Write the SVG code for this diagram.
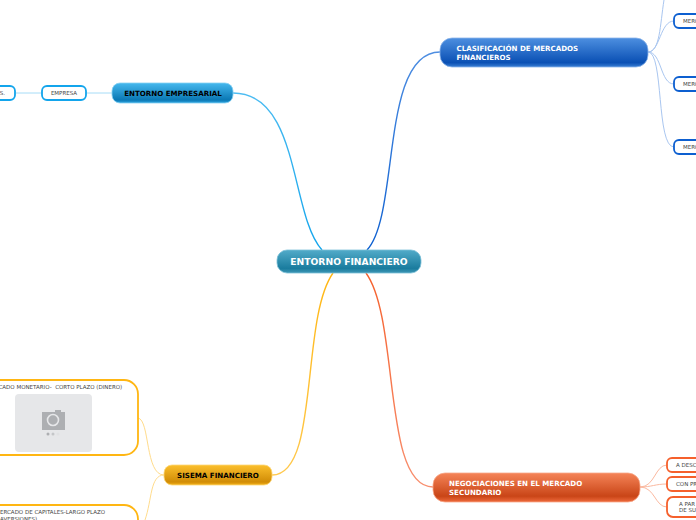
<svg xmlns="http://www.w3.org/2000/svg" width="696" height="520" viewBox="0 0 696 520">
<style>
text{font-family:"DejaVu Sans",Verdana,sans-serif}
.m{font-size:9.2px;fill:#fff;font-weight:700}
.t{font-size:7.1px;font-weight:700}
.s{font-size:5.5px;fill:#444}
.c{fill:none}
.n{fill:#fff;stroke-width:1.8}
</style>
<defs>
<linearGradient id="gr" x1="0" y1="0" x2="0" y2="1"><stop offset="0" stop-color="#52abc9"/><stop offset=".8" stop-color="#1a7c9e"/><stop offset="1" stop-color="#3f97b5"/></linearGradient>
<linearGradient id="gc" x1="0" y1="0" x2="0" y2="1"><stop offset="0" stop-color="#4d8fe0"/><stop offset=".85" stop-color="#0a50b4"/><stop offset="1" stop-color="#3a7fd4"/></linearGradient>
<linearGradient id="gn" x1="0" y1="0" x2="0" y2="1"><stop offset="0" stop-color="#f58458"/><stop offset=".8" stop-color="#c94517"/><stop offset="1" stop-color="#ee6a3c"/></linearGradient>
<linearGradient id="ge" x1="0" y1="0" x2="0" y2="1"><stop offset="0" stop-color="#45b8ee"/><stop offset=".85" stop-color="#0a78b4"/><stop offset="1" stop-color="#2ea4e0"/></linearGradient>
<linearGradient id="gs" x1="0" y1="0" x2="0" y2="1"><stop offset="0" stop-color="#fbbf2c"/><stop offset=".85" stop-color="#d18c06"/><stop offset="1" stop-color="#f5b31a"/></linearGradient>
<linearGradient id="le" gradientUnits="userSpaceOnUse" x1="322" y1="250" x2="233" y2="93"><stop offset="0" stop-color="#13a5ec"/><stop offset="1" stop-color="#4fbdf2"/></linearGradient>
<linearGradient id="lc" gradientUnits="userSpaceOnUse" x1="367" y1="250" x2="440" y2="52"><stop offset="0" stop-color="#0d5fd0"/><stop offset="1" stop-color="#4f8fe2"/></linearGradient>
<linearGradient id="ls" gradientUnits="userSpaceOnUse" x1="333" y1="273" x2="272" y2="475"><stop offset="0" stop-color="#ffb612"/><stop offset="1" stop-color="#ffc94f"/></linearGradient>
<linearGradient id="ln" gradientUnits="userSpaceOnUse" x1="366" y1="273" x2="433" y2="487"><stop offset="0" stop-color="#f5602c"/><stop offset="1" stop-color="#f89070"/></linearGradient>
</defs>
<g id="connectors" class="c">
<path d="M322 250C290 215 300 93 233 93" stroke="url(#le)" stroke-width="1.4"/>
<path d="M367 250C400 215 380 52 440 52" stroke="url(#lc)" stroke-width="1.4"/>
<path d="M333 273C300 320 320 475 272 475" stroke="url(#ls)" stroke-width="1.4"/>
<path d="M366 273C400 320 382 487 433 487" stroke="url(#ln)" stroke-width="1.4"/>
<g stroke-width="1">
<path d="M112 93H86M42 93H16" stroke="#a6dcf7"/>
<path d="M648 52C660 52 660 25 664 0M648 52C660 52 660 21 674 21M648 52C662 52 660 84 674 84M648 52C664 52 656 147 674 147" stroke="#a9c6f0"/>
<path d="M640 487C655 487 655 465 667 465M640 487C652 487 655 484 667 484M640 487C655 487 655 507 667 507" stroke="#fbb9a0"/>
<path d="M164 475C145 475 150 420 138 418M164 475C150 475 152 500 145 520" stroke="#ffdc8c"/>
</g>
</g>
<g id="root"><rect x="277" y="250" width="144" height="23" rx="10" fill="url(#gr)" stroke="#7cc0d8" stroke-width=".8"/><text class="m" x="349" y="265" text-anchor="middle">ENTORNO FINANCIERO</text></g>
<g id="clasificacion"><rect x="440" y="38" width="208" height="29" rx="12" fill="url(#gc)" stroke="#8ab4ea" stroke-width=".8"/><text class="t" fill="#fff" x="456.500" y="51">CLASIFICACIÓN DE MERCADOS</text><text class="t" fill="#fff" x="456.500" y="59.500">FINANCIEROS</text></g>
<g id="negociaciones"><rect x="433" y="473" width="207" height="29" rx="12" fill="url(#gn)" stroke="#f8a88a" stroke-width=".8"/><text class="t" fill="#fff" x="449" y="486">NEGOCIACIONES EN EL MERCADO</text><text class="t" fill="#fff" x="449" y="494.500">SECUNDARIO</text></g>
<g id="entorno-empresarial"><rect x="112" y="83" width="121" height="20" rx="8" fill="url(#ge)" stroke="#86d0f2" stroke-width=".8"/><text class="t" fill="#000" x="173" y="96" text-anchor="middle">ENTORNO EMPRESARIAL</text></g>
<g id="sisema"><rect x="164" y="465" width="108" height="20" rx="8" fill="url(#gs)" stroke="#fcd778" stroke-width=".8"/><text class="t" fill="#000" x="218" y="478" text-anchor="middle">SISEMA FINANCIERO</text></g>
<g id="empresa"><rect x="42" y="86" width="44" height="14" rx="5" class="n" stroke="#13a5ec"/><text class="s" x="64" y="95" text-anchor="middle">EMPRESA</text></g>
<g id="s-node"><rect x="-30" y="86" width="45" height="14" rx="5" class="n" stroke="#13a5ec"/><text class="s" x="5" y="95" text-anchor="end">S.</text></g>
<g id="mer1"><rect x="674" y="14" width="40" height="14" rx="5" class="n" stroke="#0d5fd0"/><text class="s" x="683" y="23">MERC</text></g>
<g id="mer2"><rect x="674" y="77" width="40" height="14" rx="5" class="n" stroke="#0d5fd0"/><text class="s" x="683" y="86">MERC</text></g>
<g id="mer3"><rect x="674" y="140" width="40" height="14" rx="5" class="n" stroke="#0d5fd0"/><text class="s" x="683" y="149">MERC</text></g>
<g id="neg1"><rect x="667" y="458" width="50" height="14" rx="5" class="n" stroke="#f5602c"/><text class="s" x="676" y="467">A DESC</text></g>
<g id="neg2"><rect x="667" y="477" width="50" height="14" rx="5" class="n" stroke="#f5602c"/><text class="s" x="676" y="486">CON PR</text></g>
<g id="neg3"><rect x="667" y="497" width="50" height="20" rx="6" class="n" stroke="#f5602c"/><text class="s" x="679" y="505.500">A PAR</text><text class="s" x="679" y="512">DE SU</text></g>
<g id="monetario"><rect x="-40" y="380" width="178" height="75" rx="14" class="n" stroke="#ffb612"/><text class="s" x="-1.500" y="389" xml:space="preserve">CADO MONETARIO-  CORTO PLAZO (DINERO)</text>
<rect x="15" y="394" width="77" height="58" rx="4" fill="#e6e7e9"/>
<path d="M42 412h13v-2h6v2h4v18h-23z" fill="#adafb2"/><circle cx="53" cy="420" r="5.500" fill="#adafb2" stroke="#e6e7e9" stroke-width="1.600"/><circle cx="48" cy="434" r="1.500" fill="#adafb2"/><circle cx="53" cy="434" r="1.500" fill="#c4c6c8"/><circle cx="58" cy="434" r="1.500" fill="#e0e1e3"/></g>
<g id="capitales"><rect x="-40" y="505" width="178" height="60" rx="14" class="n" stroke="#ffb612"/><text class="s" x="0" y="514">ERCADO DE CAPITALES-LARGO PLAZO</text><text class="s" x="0" y="520.500">AVERSIONES)</text></g>
</svg>
